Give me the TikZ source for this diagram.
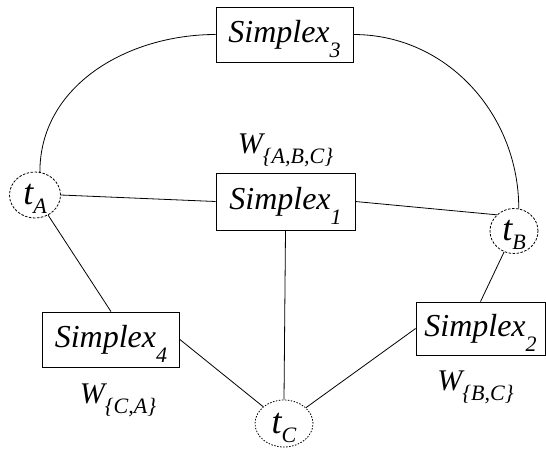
\documentclass[tikz,border=0pt]{standalone}
\usepackage{fontspec}
\setmainfont{Liberation Serif}
\usetikzlibrary{positioning, shapes.geometric}
\newcommand{\lowsub}[2][10pt]{\raisebox{-#1}[0pt][0pt]{\fontsize{22}{24}\selectfont #2}}

\begin{document}
\begin{tikzpicture}[
  x=1pt, y=-1pt,
  every path/.style={line width=0.8pt},
  simplexbox/.style={draw, rectangle, inner sep=0pt, minimum width=137pt,
    minimum height=55pt, font=\fontsize{32}{34}\selectfont\itshape},
  term/.style={draw, ellipse, dashed, dash pattern=on 2.5pt off 1.5pt,
    inner sep=0pt, minimum width=51pt, minimum height=46pt,
    font=\fontsize{36}{38}\selectfont\itshape},
  weight/.style={inner sep=1pt, font=\fontsize{30}{32}\selectfont\itshape}
]
\useasboundingbox (0,0) rectangle (546,448);

\node[simplexbox] (simplexthree) at (284.5,34.5) {Simplex\lowsub[15pt]{3}};
\node[simplexbox, minimum width=139pt, minimum height=57pt] (simplexone) at (285.5,201.5) {Simplex\lowsub[15pt]{1}};
\node[simplexbox, minimum width=129pt, minimum height=53pt] (simplextwo) at (480.5,328.5) {Simplex\lowsub[15pt]{2}};
\node[simplexbox] (simplexfour) at (111,339.5) {Simplex\lowsub[15pt]{4}};

\node[term] (tA) at (35,195) {t\lowsub[9pt]{A}};
\node[term, minimum width=48pt, minimum height=45pt] (tB) at (514,231) {t\lowsub[9pt]{B}};
\node[term, minimum width=58pt, minimum height=47pt, dash pattern=on 1.5pt off 1.5pt] (tC) at (284,423.5) {t\lowsub[9pt]{C}};

\node[weight, above=17pt of simplexone] (wabc) {W\lowsub{\{A,B,C\}}};
\node[weight, below=14pt of simplextwo, xshift=-5pt] (wbc) {W\lowsub{\{B,C\}}};
\node[weight, below=15pt of simplexfour, xshift=7pt] (wca) {W\lowsub{\{C,A\}}};

\draw (simplexthree.west) to[out=180, in=90] (tA.78);
\draw (simplexthree.east) to[out=0, in=90] (tB.78);
\draw (tA.east) -- (simplexone.west);
\draw (simplexone.east) -- (tB.north west);
\draw (simplexone.south) -- (tC.north);
\draw (tA) -- (simplexfour.north);
\draw (tB) -- (simplextwo.north);
\draw (simplexfour.east) -- (tC);
\draw (simplextwo.west) -- (tC);
\end{tikzpicture}
\end{document}
